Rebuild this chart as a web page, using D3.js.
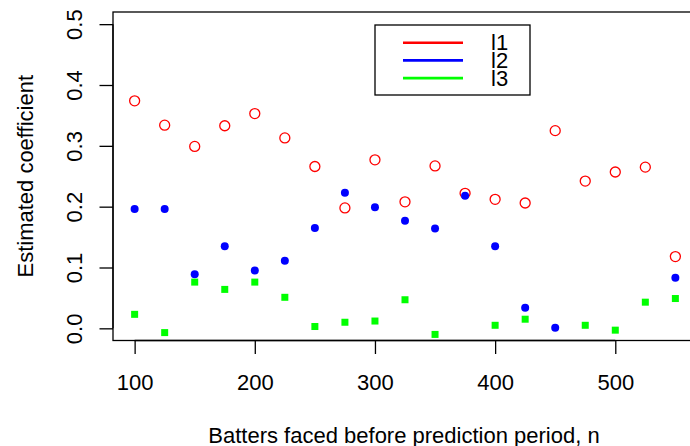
<!DOCTYPE html>
<html lang="en">
<head>
<meta charset="UTF-8">
<title>Estimated coefficient</title>
<script src="https://d3js.org/d3.v7.min.js"></script>
<style>
    body { margin: 0; background: #fff; }
    svg { display: block; font-family: "Liberation Sans", Arial, sans-serif; }
</style>
</head>
<body>
<div id="chart"></div>
<script>
    // batters faced before prediction period
    const nValues = [100, 125, 150, 175, 200, 225, 250, 275, 300, 325, 350, 375, 400, 425, 450, 475, 500, 525, 550];
    const l1 = [0.374, 0.334, 0.299, 0.333, 0.353, 0.313, 0.266, 0.198, 0.277, 0.208, 0.267, 0.222, 0.212, 0.206, 0.325, 0.242, 0.257, 0.265, 0.118];
    const l2 = [0.196, 0.196, 0.089, 0.135, 0.095, 0.111, 0.165, 0.223, 0.199, 0.177, 0.164, 0.218, 0.135, 0.034, 0.001, null, null, null, 0.083];
    const l3 = [0.023, -0.007, 0.076, 0.064, 0.076, 0.051, 0.003, 0.010, 0.012, 0.047, -0.010, null, 0.005, 0.015, null, 0.005, -0.003, 0.043, 0.049];
    const xTicks = [100, 200, 300, 400, 500];
    const yTicks = [0.0, 0.1, 0.2, 0.3, 0.4, 0.5];
    const legendLabels = ["l1", "l2", "l3"];
    const legendColors = ["#ff0000", "#0000ff", "#00ff00"];

    const W = 690, H = 446;
    const plotL = 113, plotR = 697, plotT = 12, plotB = 340.5;
    const fs = 22;

    const svg = d3.select("#chart").append("svg")
        .attr("width", W).attr("height", H);

    const x = d3.scaleLinear().domain([82, 568]).range([plotL, plotR]);
    const y = d3.scaleLinear().domain([-0.02, 0.52]).range([plotB, plotT]);

    // box
    svg.append("rect")
        .attr("x", plotL).attr("y", plotT)
        .attr("width", plotR - plotL).attr("height", plotB - plotT)
        .attr("fill", "none").attr("stroke", "#000").attr("stroke-width", 1.3);

    // x axis
    const xAxis = svg.append("g").attr("transform", `translate(0,${plotB})`)
        .call(d3.axisBottom(x).tickValues(xTicks).tickSize(13.5).tickPadding(20).tickFormat(d3.format("d")));
    xAxis.select(".domain").attr("d", `M${x(100)},0H${x(500)}`).attr("stroke-width", 1.3);
    xAxis.selectAll(".tick line").attr("stroke-width", 1.3);
    xAxis.selectAll("text").attr("font-size", fs).attr("font-family", "Liberation Sans, Arial, sans-serif").attr("fill", "#000");

    // y axis
    const yAxis = svg.append("g").attr("transform", `translate(${plotL},0)`)
        .call(d3.axisLeft(y).tickValues(yTicks).tickSize(13.5).tickFormat(d3.format(".1f")));
    yAxis.select(".domain").attr("d", `M0,${y(0)}V${y(0.5)}`).attr("stroke-width", 1.3);
    yAxis.selectAll(".tick line").attr("stroke-width", 1.3);
    yAxis.selectAll("text")
        .attr("font-size", fs).attr("font-family", "Liberation Sans, Arial, sans-serif").attr("fill", "#000")
        .attr("x", null).attr("dy", null)
        .attr("text-anchor", "middle")
        .attr("transform", "translate(-31,0) rotate(-90)");

    // axis titles
    svg.append("text")
        .attr("x", 404).attr("y", 442.5)
        .attr("text-anchor", "middle").attr("font-size", fs)
        .text("Batters faced before prediction period, n");
    svg.append("text")
        .attr("transform", `translate(33,${(plotT + plotB) / 2}) rotate(-90)`)
        .attr("text-anchor", "middle").attr("font-size", fs)
        .text("Estimated coefficient");

    const pts = (vals) => nValues.map((n, i) => ({n, v: vals[i]})).filter(d => d.v !== null);

    // l1 open circles
    svg.append("g").selectAll("circle").data(pts(l1)).join("circle")
        .attr("cx", d => x(d.n)).attr("cy", d => y(d.v)).attr("r", 5)
        .attr("fill", "none").attr("stroke", legendColors[0]).attr("stroke-width", 1.3);

    // l2 filled circles
    svg.append("g").selectAll("circle").data(pts(l2)).join("circle")
        .attr("cx", d => x(d.n)).attr("cy", d => y(d.v)).attr("r", 4)
        .attr("fill", legendColors[1]);

    // l3 filled squares
    const sq = 7;
    svg.append("g").selectAll("rect").data(pts(l3)).join("rect")
        .attr("x", d => x(d.n) - sq / 2).attr("y", d => y(d.v) - sq / 2)
        .attr("width", sq).attr("height", sq)
        .attr("fill", legendColors[2]);

    // legend
    const lg = svg.append("g");
    lg.append("rect").attr("x", 375).attr("y", 25).attr("width", 155).attr("height", 70)
        .attr("fill", "#fff").attr("stroke", "#000").attr("stroke-width", 1.3);
    legendLabels.forEach((lab, i) => {
        const ly = 42.7 + i * 17.7;
        lg.append("line").attr("x1", 403).attr("x2", 463).attr("y1", ly).attr("y2", ly)
            .attr("stroke", legendColors[i]).attr("stroke-width", 2.6);
        lg.append("text").attr("x", 491).attr("y", ly + 7.5).attr("font-size", fs).text(lab);
    });
</script>
</body>
</html>
